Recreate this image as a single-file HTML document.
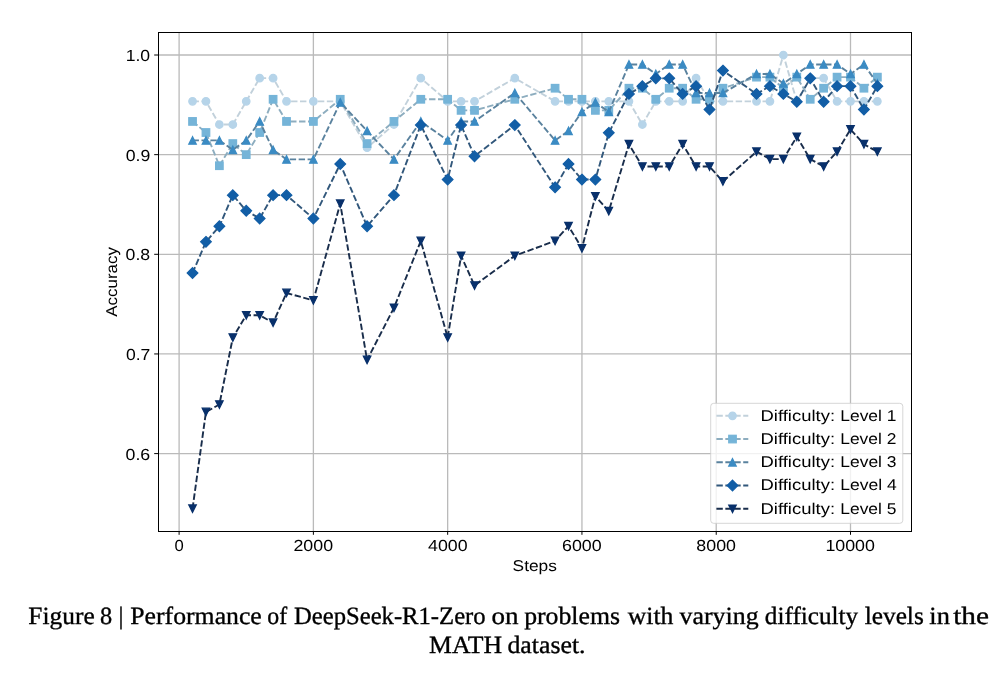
<!DOCTYPE html>
<html><head><meta charset="utf-8"><style>
html,body{margin:0;padding:0;background:#fff;width:1008px;height:688px;overflow:hidden}
svg{display:block}
#w{position:absolute;left:0;top:0;width:1008px;height:688px;will-change:transform}
text{font-family:"Liberation Sans",sans-serif;fill:#000;text-rendering:geometricPrecision}
.cap{font-family:"Liberation Serif",serif;stroke:#000;stroke-width:0.35px}
</style></head><body><div id="w">
<svg width="1008" height="688" viewBox="0 0 1008 688">
<rect width="1008" height="688" fill="#fff"/>

<g stroke="#bababa" stroke-width="1.3" fill="none"><line x1="179.10" y1="32.5" x2="179.10" y2="531.5"/><line x1="313.38" y1="32.5" x2="313.38" y2="531.5"/><line x1="447.66" y1="32.5" x2="447.66" y2="531.5"/><line x1="581.94" y1="32.5" x2="581.94" y2="531.5"/><line x1="716.22" y1="32.5" x2="716.22" y2="531.5"/><line x1="850.50" y1="32.5" x2="850.50" y2="531.5"/><line x1="158.5" y1="453.60" x2="911.5" y2="453.60"/><line x1="158.5" y1="353.95" x2="911.5" y2="353.95"/><line x1="158.5" y1="254.30" x2="911.5" y2="254.30"/><line x1="158.5" y1="154.65" x2="911.5" y2="154.65"/><line x1="158.5" y1="55.00" x2="911.5" y2="55.00"/></g>
<polyline points="192.53,101.35 205.96,101.35 219.38,124.52 232.81,124.52 246.24,101.35 259.67,78.17 273.10,78.17 286.52,101.35 313.38,101.35 340.24,101.35 367.09,147.70 393.95,124.52 420.80,78.17 447.66,101.35 461.09,101.35 474.52,101.35 514.80,78.17 555.08,101.35 568.51,101.35 581.94,101.35 595.37,101.35 608.80,101.35 628.94,101.35 642.37,124.52 655.79,101.35 669.22,101.35 682.65,101.35 696.08,78.17 709.51,101.35 722.93,101.35 756.50,101.35 769.93,101.35 783.36,55.00 796.79,101.35 810.22,78.17 823.64,78.17 837.07,101.35 850.50,101.35 863.93,101.35 877.36,101.35" fill="none" stroke="#c2d1db" stroke-width="1.9" stroke-dasharray="6.40 2.54" stroke-linejoin="round"/>
<g fill="#b6d4e9" stroke="#b6d4e9" stroke-width="1.25" stroke-linejoin="miter"><circle cx="192.53" cy="101.35" r="3.75"/><circle cx="205.96" cy="101.35" r="3.75"/><circle cx="219.38" cy="124.52" r="3.75"/><circle cx="232.81" cy="124.52" r="3.75"/><circle cx="246.24" cy="101.35" r="3.75"/><circle cx="259.67" cy="78.17" r="3.75"/><circle cx="273.10" cy="78.17" r="3.75"/><circle cx="286.52" cy="101.35" r="3.75"/><circle cx="313.38" cy="101.35" r="3.75"/><circle cx="340.24" cy="101.35" r="3.75"/><circle cx="367.09" cy="147.70" r="3.75"/><circle cx="393.95" cy="124.52" r="3.75"/><circle cx="420.80" cy="78.17" r="3.75"/><circle cx="447.66" cy="101.35" r="3.75"/><circle cx="461.09" cy="101.35" r="3.75"/><circle cx="474.52" cy="101.35" r="3.75"/><circle cx="514.80" cy="78.17" r="3.75"/><circle cx="555.08" cy="101.35" r="3.75"/><circle cx="568.51" cy="101.35" r="3.75"/><circle cx="581.94" cy="101.35" r="3.75"/><circle cx="595.37" cy="101.35" r="3.75"/><circle cx="608.80" cy="101.35" r="3.75"/><circle cx="628.94" cy="101.35" r="3.75"/><circle cx="642.37" cy="124.52" r="3.75"/><circle cx="655.79" cy="101.35" r="3.75"/><circle cx="669.22" cy="101.35" r="3.75"/><circle cx="682.65" cy="101.35" r="3.75"/><circle cx="696.08" cy="78.17" r="3.75"/><circle cx="709.51" cy="101.35" r="3.75"/><circle cx="722.93" cy="101.35" r="3.75"/><circle cx="756.50" cy="101.35" r="3.75"/><circle cx="769.93" cy="101.35" r="3.75"/><circle cx="783.36" cy="55.00" r="3.75"/><circle cx="796.79" cy="101.35" r="3.75"/><circle cx="810.22" cy="78.17" r="3.75"/><circle cx="823.64" cy="78.17" r="3.75"/><circle cx="837.07" cy="101.35" r="3.75"/><circle cx="850.50" cy="101.35" r="3.75"/><circle cx="863.93" cy="101.35" r="3.75"/><circle cx="877.36" cy="101.35" r="3.75"/></g>
<polyline points="192.53,121.43 205.96,132.51 219.38,165.72 232.81,143.58 246.24,154.65 259.67,132.51 273.10,99.29 286.52,121.43 313.38,121.43 340.24,99.29 367.09,143.58 393.95,121.43 420.80,99.29 447.66,99.29 461.09,110.36 474.52,110.36 514.80,99.29 555.08,88.22 568.51,99.29 581.94,99.29 595.37,110.36 608.80,110.36 628.94,88.22 642.37,88.22 655.79,99.29 669.22,88.22 682.65,88.22 696.08,99.29 709.51,99.29 722.93,88.22 756.50,77.14 769.93,77.14 783.36,88.22 796.79,77.14 810.22,99.29 823.64,88.22 837.07,77.14 850.50,77.14 863.93,88.22 877.36,77.14" fill="none" stroke="#8dadbf" stroke-width="1.9" stroke-dasharray="6.40 2.54" stroke-linejoin="round"/>
<g fill="#75b4d8" stroke="#75b4d8" stroke-width="1.25" stroke-linejoin="miter"><rect x="188.78" y="117.68" width="7.50" height="7.50"/><rect x="202.21" y="128.76" width="7.50" height="7.50"/><rect x="215.63" y="161.97" width="7.50" height="7.50"/><rect x="229.06" y="139.83" width="7.50" height="7.50"/><rect x="242.49" y="150.90" width="7.50" height="7.50"/><rect x="255.92" y="128.76" width="7.50" height="7.50"/><rect x="269.35" y="95.54" width="7.50" height="7.50"/><rect x="282.77" y="117.68" width="7.50" height="7.50"/><rect x="309.63" y="117.68" width="7.50" height="7.50"/><rect x="336.49" y="95.54" width="7.50" height="7.50"/><rect x="363.34" y="139.83" width="7.50" height="7.50"/><rect x="390.20" y="117.68" width="7.50" height="7.50"/><rect x="417.05" y="95.54" width="7.50" height="7.50"/><rect x="443.91" y="95.54" width="7.50" height="7.50"/><rect x="457.34" y="106.61" width="7.50" height="7.50"/><rect x="470.77" y="106.61" width="7.50" height="7.50"/><rect x="511.05" y="95.54" width="7.50" height="7.50"/><rect x="551.33" y="84.47" width="7.50" height="7.50"/><rect x="564.76" y="95.54" width="7.50" height="7.50"/><rect x="578.19" y="95.54" width="7.50" height="7.50"/><rect x="591.62" y="106.61" width="7.50" height="7.50"/><rect x="605.05" y="106.61" width="7.50" height="7.50"/><rect x="625.19" y="84.47" width="7.50" height="7.50"/><rect x="638.62" y="84.47" width="7.50" height="7.50"/><rect x="652.04" y="95.54" width="7.50" height="7.50"/><rect x="665.47" y="84.47" width="7.50" height="7.50"/><rect x="678.90" y="84.47" width="7.50" height="7.50"/><rect x="692.33" y="95.54" width="7.50" height="7.50"/><rect x="705.76" y="95.54" width="7.50" height="7.50"/><rect x="719.18" y="84.47" width="7.50" height="7.50"/><rect x="752.75" y="73.39" width="7.50" height="7.50"/><rect x="766.18" y="73.39" width="7.50" height="7.50"/><rect x="779.61" y="84.47" width="7.50" height="7.50"/><rect x="793.04" y="73.39" width="7.50" height="7.50"/><rect x="806.47" y="95.54" width="7.50" height="7.50"/><rect x="819.89" y="84.47" width="7.50" height="7.50"/><rect x="833.32" y="73.39" width="7.50" height="7.50"/><rect x="846.75" y="73.39" width="7.50" height="7.50"/><rect x="860.18" y="84.47" width="7.50" height="7.50"/><rect x="873.61" y="73.39" width="7.50" height="7.50"/></g>
<polyline points="192.53,140.41 205.96,140.41 219.38,140.41 232.81,149.90 246.24,140.41 259.67,121.43 273.10,149.90 286.52,159.40 313.38,159.40 340.24,102.45 367.09,130.92 393.95,159.40 420.80,121.43 447.66,140.41 461.09,121.43 474.52,121.43 514.80,92.96 555.08,140.41 568.51,130.92 581.94,111.94 595.37,102.45 608.80,111.94 628.94,64.49 642.37,64.49 655.79,73.98 669.22,64.49 682.65,64.49 696.08,92.96 709.51,92.96 722.93,92.96 756.50,73.98 769.93,73.98 783.36,83.47 796.79,73.98 810.22,64.49 823.64,64.49 837.07,64.49 850.50,73.98 863.93,64.49 877.36,83.47" fill="none" stroke="#5a829e" stroke-width="1.9" stroke-dasharray="6.40 2.54" stroke-linejoin="round"/>
<g fill="#3b8bc3" stroke="#3b8bc3" stroke-width="1.25" stroke-linejoin="miter"><path d="M192.53 136.66L188.78 144.16L196.28 144.16Z"/><path d="M205.96 136.66L202.21 144.16L209.71 144.16Z"/><path d="M219.38 136.66L215.63 144.16L223.13 144.16Z"/><path d="M232.81 146.15L229.06 153.65L236.56 153.65Z"/><path d="M246.24 136.66L242.49 144.16L249.99 144.16Z"/><path d="M259.67 117.68L255.92 125.18L263.42 125.18Z"/><path d="M273.10 146.15L269.35 153.65L276.85 153.65Z"/><path d="M286.52 155.65L282.77 163.15L290.27 163.15Z"/><path d="M313.38 155.65L309.63 163.15L317.13 163.15Z"/><path d="M340.24 98.70L336.49 106.20L343.99 106.20Z"/><path d="M367.09 127.17L363.34 134.67L370.84 134.67Z"/><path d="M393.95 155.65L390.20 163.15L397.70 163.15Z"/><path d="M420.80 117.68L417.05 125.18L424.55 125.18Z"/><path d="M447.66 136.66L443.91 144.16L451.41 144.16Z"/><path d="M461.09 117.68L457.34 125.18L464.84 125.18Z"/><path d="M474.52 117.68L470.77 125.18L478.27 125.18Z"/><path d="M514.80 89.21L511.05 96.71L518.55 96.71Z"/><path d="M555.08 136.66L551.33 144.16L558.83 144.16Z"/><path d="M568.51 127.17L564.76 134.67L572.26 134.67Z"/><path d="M581.94 108.19L578.19 115.69L585.69 115.69Z"/><path d="M595.37 98.70L591.62 106.20L599.12 106.20Z"/><path d="M608.80 108.19L605.05 115.69L612.55 115.69Z"/><path d="M628.94 60.74L625.19 68.24L632.69 68.24Z"/><path d="M642.37 60.74L638.62 68.24L646.12 68.24Z"/><path d="M655.79 70.23L652.04 77.73L659.54 77.73Z"/><path d="M669.22 60.74L665.47 68.24L672.97 68.24Z"/><path d="M682.65 60.74L678.90 68.24L686.40 68.24Z"/><path d="M696.08 89.21L692.33 96.71L699.83 96.71Z"/><path d="M709.51 89.21L705.76 96.71L713.26 96.71Z"/><path d="M722.93 89.21L719.18 96.71L726.68 96.71Z"/><path d="M756.50 70.23L752.75 77.73L760.25 77.73Z"/><path d="M769.93 70.23L766.18 77.73L773.68 77.73Z"/><path d="M783.36 79.72L779.61 87.22L787.11 87.22Z"/><path d="M796.79 70.23L793.04 77.73L800.54 77.73Z"/><path d="M810.22 60.74L806.47 68.24L813.97 68.24Z"/><path d="M823.64 60.74L819.89 68.24L827.39 68.24Z"/><path d="M837.07 60.74L833.32 68.24L840.82 68.24Z"/><path d="M850.50 70.23L846.75 77.73L854.25 77.73Z"/><path d="M863.93 60.74L860.18 68.24L867.68 68.24Z"/><path d="M877.36 79.72L873.61 87.22L881.11 87.22Z"/></g>
<polyline points="192.53,272.98 205.96,241.84 219.38,226.27 232.81,195.13 246.24,210.70 259.67,218.49 273.10,195.13 286.52,195.13 313.38,218.49 340.24,163.99 367.09,226.27 393.95,195.13 420.80,125.07 447.66,179.56 461.09,125.07 474.52,156.21 514.80,125.07 555.08,187.35 568.51,163.99 581.94,179.56 595.37,179.56 608.80,132.85 628.94,93.93 642.37,86.14 655.79,78.36 669.22,78.36 682.65,93.93 696.08,86.14 709.51,109.50 722.93,70.57 756.50,93.93 769.93,86.14 783.36,93.93 796.79,101.71 810.22,78.36 823.64,101.71 837.07,86.14 850.50,86.14 863.93,109.50 877.36,86.14" fill="none" stroke="#31577b" stroke-width="1.9" stroke-dasharray="6.40 2.54" stroke-linejoin="round"/>
<g fill="#125ea6" stroke="#125ea6" stroke-width="1.25" stroke-linejoin="miter"><path d="M192.53 267.68L197.83 272.98L192.53 278.29L187.22 272.98Z"/><path d="M205.96 236.54L211.26 241.84L205.96 247.15L200.65 241.84Z"/><path d="M219.38 220.97L224.69 226.27L219.38 231.58L214.08 226.27Z"/><path d="M232.81 189.83L238.12 195.13L232.81 200.44L227.51 195.13Z"/><path d="M246.24 205.40L251.54 210.70L246.24 216.01L240.94 210.70Z"/><path d="M259.67 213.18L264.97 218.49L259.67 223.79L254.36 218.49Z"/><path d="M273.10 189.83L278.40 195.13L273.10 200.44L267.79 195.13Z"/><path d="M286.52 189.83L291.83 195.13L286.52 200.44L281.22 195.13Z"/><path d="M313.38 213.18L318.68 218.49L313.38 223.79L308.08 218.49Z"/><path d="M340.24 158.69L345.54 163.99L340.24 169.30L334.93 163.99Z"/><path d="M367.09 220.97L372.40 226.27L367.09 231.58L361.79 226.27Z"/><path d="M393.95 189.83L399.25 195.13L393.95 200.44L388.64 195.13Z"/><path d="M420.80 119.76L426.11 125.07L420.80 130.37L415.50 125.07Z"/><path d="M447.66 174.26L452.96 179.56L447.66 184.87L442.36 179.56Z"/><path d="M461.09 119.76L466.39 125.07L461.09 130.37L455.78 125.07Z"/><path d="M474.52 150.90L479.82 156.21L474.52 161.51L469.21 156.21Z"/><path d="M514.80 119.76L520.10 125.07L514.80 130.37L509.50 125.07Z"/><path d="M555.08 182.04L560.39 187.35L555.08 192.65L549.78 187.35Z"/><path d="M568.51 158.69L573.82 163.99L568.51 169.30L563.21 163.99Z"/><path d="M581.94 174.26L587.24 179.56L581.94 184.87L576.64 179.56Z"/><path d="M595.37 174.26L600.67 179.56L595.37 184.87L590.06 179.56Z"/><path d="M608.80 127.55L614.10 132.85L608.80 138.15L603.49 132.85Z"/><path d="M628.94 88.62L634.24 93.93L628.94 99.23L623.63 93.93Z"/><path d="M642.37 80.84L647.67 86.14L642.37 91.44L637.06 86.14Z"/><path d="M655.79 73.05L661.10 78.36L655.79 83.66L650.49 78.36Z"/><path d="M669.22 73.05L674.53 78.36L669.22 83.66L663.92 78.36Z"/><path d="M682.65 88.62L687.95 93.93L682.65 99.23L677.35 93.93Z"/><path d="M696.08 80.84L701.38 86.14L696.08 91.44L690.77 86.14Z"/><path d="M709.51 104.19L714.81 109.50L709.51 114.80L704.20 109.50Z"/><path d="M722.93 65.27L728.24 70.57L722.93 75.87L717.63 70.57Z"/><path d="M756.50 88.62L761.81 93.93L756.50 99.23L751.20 93.93Z"/><path d="M769.93 80.84L775.24 86.14L769.93 91.44L764.63 86.14Z"/><path d="M783.36 88.62L788.66 93.93L783.36 99.23L778.06 93.93Z"/><path d="M796.79 96.41L802.09 101.71L796.79 107.01L791.48 101.71Z"/><path d="M810.22 73.05L815.52 78.36L810.22 83.66L804.91 78.36Z"/><path d="M823.64 96.41L828.95 101.71L823.64 107.01L818.34 101.71Z"/><path d="M837.07 80.84L842.38 86.14L837.07 91.44L831.77 86.14Z"/><path d="M850.50 80.84L855.80 86.14L850.50 91.44L845.20 86.14Z"/><path d="M863.93 104.19L869.23 109.50L863.93 114.80L858.62 109.50Z"/><path d="M877.36 80.84L882.66 86.14L877.36 91.44L872.05 86.14Z"/></g>
<polyline points="192.53,508.63 205.96,411.96 219.38,404.52 232.81,337.59 246.24,315.28 259.67,315.28 273.10,322.72 286.52,292.97 313.38,300.41 340.24,203.73 367.09,359.90 393.95,307.84 420.80,240.91 447.66,337.59 461.09,255.79 474.52,285.53 514.80,255.79 555.08,240.91 568.51,226.04 581.94,248.35 595.37,196.29 608.80,211.17 628.94,144.24 642.37,166.55 655.79,166.55 669.22,166.55 682.65,144.24 696.08,166.55 709.51,166.55 722.93,181.42 756.50,151.68 769.93,159.11 783.36,159.11 796.79,136.80 810.22,159.11 823.64,166.55 837.07,151.68 850.50,129.37 863.93,144.24 877.36,151.68" fill="none" stroke="#192d4b" stroke-width="1.9" stroke-dasharray="6.40 2.54" stroke-linejoin="round"/>
<g fill="#08306b" stroke="#08306b" stroke-width="1.25" stroke-linejoin="miter"><path d="M192.53 512.38L188.78 504.88L196.28 504.88Z"/><path d="M205.96 415.71L202.21 408.21L209.71 408.21Z"/><path d="M219.38 408.27L215.63 400.77L223.13 400.77Z"/><path d="M232.81 341.34L229.06 333.84L236.56 333.84Z"/><path d="M246.24 319.03L242.49 311.53L249.99 311.53Z"/><path d="M259.67 319.03L255.92 311.53L263.42 311.53Z"/><path d="M273.10 326.47L269.35 318.97L276.85 318.97Z"/><path d="M286.52 296.72L282.77 289.22L290.27 289.22Z"/><path d="M313.38 304.16L309.63 296.66L317.13 296.66Z"/><path d="M340.24 207.48L336.49 199.98L343.99 199.98Z"/><path d="M367.09 363.65L363.34 356.15L370.84 356.15Z"/><path d="M393.95 311.59L390.20 304.09L397.70 304.09Z"/><path d="M420.80 244.66L417.05 237.16L424.55 237.16Z"/><path d="M447.66 341.34L443.91 333.84L451.41 333.84Z"/><path d="M461.09 259.54L457.34 252.04L464.84 252.04Z"/><path d="M474.52 289.28L470.77 281.78L478.27 281.78Z"/><path d="M514.80 259.54L511.05 252.04L518.55 252.04Z"/><path d="M555.08 244.66L551.33 237.16L558.83 237.16Z"/><path d="M568.51 229.79L564.76 222.29L572.26 222.29Z"/><path d="M581.94 252.10L578.19 244.60L585.69 244.60Z"/><path d="M595.37 200.04L591.62 192.54L599.12 192.54Z"/><path d="M608.80 214.92L605.05 207.42L612.55 207.42Z"/><path d="M628.94 147.99L625.19 140.49L632.69 140.49Z"/><path d="M642.37 170.30L638.62 162.80L646.12 162.80Z"/><path d="M655.79 170.30L652.04 162.80L659.54 162.80Z"/><path d="M669.22 170.30L665.47 162.80L672.97 162.80Z"/><path d="M682.65 147.99L678.90 140.49L686.40 140.49Z"/><path d="M696.08 170.30L692.33 162.80L699.83 162.80Z"/><path d="M709.51 170.30L705.76 162.80L713.26 162.80Z"/><path d="M722.93 185.17L719.18 177.67L726.68 177.67Z"/><path d="M756.50 155.43L752.75 147.93L760.25 147.93Z"/><path d="M769.93 162.86L766.18 155.36L773.68 155.36Z"/><path d="M783.36 162.86L779.61 155.36L787.11 155.36Z"/><path d="M796.79 140.55L793.04 133.05L800.54 133.05Z"/><path d="M810.22 162.86L806.47 155.36L813.97 155.36Z"/><path d="M823.64 170.30L819.89 162.80L827.39 162.80Z"/><path d="M837.07 155.43L833.32 147.93L840.82 147.93Z"/><path d="M850.50 133.12L846.75 125.62L854.25 125.62Z"/><path d="M863.93 147.99L860.18 140.49L867.68 140.49Z"/><path d="M877.36 155.43L873.61 147.93L881.11 147.93Z"/></g>
<rect x="158.5" y="32.5" width="753.00" height="499.00" fill="none" stroke="#000" stroke-width="1"/>
<g stroke="#000" stroke-width="1"><line x1="179.10" y1="531.5" x2="179.10" y2="534.8"/><line x1="313.38" y1="531.5" x2="313.38" y2="534.8"/><line x1="447.66" y1="531.5" x2="447.66" y2="534.8"/><line x1="581.94" y1="531.5" x2="581.94" y2="534.8"/><line x1="716.22" y1="531.5" x2="716.22" y2="534.8"/><line x1="850.50" y1="531.5" x2="850.50" y2="534.8"/><line x1="154.2" y1="453.60" x2="158.5" y2="453.60"/><line x1="154.2" y1="353.95" x2="158.5" y2="353.95"/><line x1="154.2" y1="254.30" x2="158.5" y2="254.30"/><line x1="154.2" y1="154.65" x2="158.5" y2="154.65"/><line x1="154.2" y1="55.00" x2="158.5" y2="55.00"/></g>
<text x="174.48" y="550.80" font-size="16.0" textLength="9.25" lengthAdjust="spacingAndGlyphs">0</text><text x="293.49" y="550.80" font-size="16.0" textLength="39.55" lengthAdjust="spacingAndGlyphs">2000</text><text x="428.02" y="550.80" font-size="16.0" textLength="39.50" lengthAdjust="spacingAndGlyphs">4000</text><text x="562.00" y="550.80" font-size="16.0" textLength="39.65" lengthAdjust="spacingAndGlyphs">6000</text><text x="696.39" y="550.80" font-size="16.0" textLength="39.54" lengthAdjust="spacingAndGlyphs">8000</text><text x="825.42" y="550.80" font-size="16.0" textLength="49.49" lengthAdjust="spacingAndGlyphs">10000</text><text x="125.53" y="459.65" font-size="16.0" textLength="24.69" lengthAdjust="spacingAndGlyphs">0.6</text><text x="125.94" y="360.00" font-size="16.0" textLength="24.38" lengthAdjust="spacingAndGlyphs">0.7</text><text x="125.64" y="260.35" font-size="16.0" textLength="24.58" lengthAdjust="spacingAndGlyphs">0.8</text><text x="125.74" y="160.70" font-size="16.0" textLength="24.59" lengthAdjust="spacingAndGlyphs">0.9</text><text x="125.68" y="61.05" font-size="16.0" textLength="24.42" lengthAdjust="spacingAndGlyphs">1.0</text>
<text x="512.62" y="570.90" font-size="15.6" textLength="44.34" lengthAdjust="spacingAndGlyphs">Steps</text>
<text transform="translate(117.4 316.81) rotate(-90)" x="0" y="0" font-size="15.6" textLength="69.76" lengthAdjust="spacingAndGlyphs">Accuracy</text>
<rect x="710.7" y="403.3" width="192.10" height="120.00" rx="3" ry="3" fill="#fff" fill-opacity="0.8" stroke="#cccccc" stroke-opacity="0.8" stroke-width="1"/>
<line x1="716.4" y1="415.80" x2="748.3" y2="415.80" stroke="#c2d1db" stroke-width="1.9" stroke-dasharray="6.40 2.54"/>
<g fill="#b6d4e9" stroke="#b6d4e9" stroke-width="1.25"><circle cx="732.50" cy="415.80" r="3.75"/></g>
<text x="760.56" y="420.70" font-size="15.6" textLength="74.49" lengthAdjust="spacingAndGlyphs">Difficulty:</text>
<text x="840.31" y="420.70" font-size="15.6" textLength="56.15" lengthAdjust="spacingAndGlyphs">Level 1</text>
<line x1="716.4" y1="439.05" x2="748.3" y2="439.05" stroke="#8dadbf" stroke-width="1.9" stroke-dasharray="6.40 2.54"/>
<g fill="#75b4d8" stroke="#75b4d8" stroke-width="1.25"><rect x="728.75" y="435.30" width="7.50" height="7.50"/></g>
<text x="760.56" y="443.95" font-size="15.6" textLength="74.49" lengthAdjust="spacingAndGlyphs">Difficulty:</text>
<text x="840.31" y="443.95" font-size="15.6" textLength="56.05" lengthAdjust="spacingAndGlyphs">Level 2</text>
<line x1="716.4" y1="462.30" x2="748.3" y2="462.30" stroke="#5a829e" stroke-width="1.9" stroke-dasharray="6.40 2.54"/>
<g fill="#3b8bc3" stroke="#3b8bc3" stroke-width="1.25"><path d="M732.50 458.55L728.75 466.05L736.25 466.05Z"/></g>
<text x="760.56" y="467.20" font-size="15.6" textLength="74.49" lengthAdjust="spacingAndGlyphs">Difficulty:</text>
<text x="840.31" y="467.20" font-size="15.6" textLength="56.24" lengthAdjust="spacingAndGlyphs">Level 3</text>
<line x1="716.4" y1="485.55" x2="748.3" y2="485.55" stroke="#31577b" stroke-width="1.9" stroke-dasharray="6.40 2.54"/>
<g fill="#125ea6" stroke="#125ea6" stroke-width="1.25"><path d="M732.50 480.25L737.80 485.55L732.50 490.85L727.20 485.55Z"/></g>
<text x="760.56" y="490.45" font-size="15.6" textLength="74.49" lengthAdjust="spacingAndGlyphs">Difficulty:</text>
<text x="840.30" y="490.45" font-size="15.6" textLength="56.43" lengthAdjust="spacingAndGlyphs">Level 4</text>
<line x1="716.4" y1="508.80" x2="748.3" y2="508.80" stroke="#192d4b" stroke-width="1.9" stroke-dasharray="6.40 2.54"/>
<g fill="#08306b" stroke="#08306b" stroke-width="1.25"><path d="M732.50 512.55L728.75 505.05L736.25 505.05Z"/></g>
<text x="760.56" y="513.70" font-size="15.6" textLength="74.49" lengthAdjust="spacingAndGlyphs">Difficulty:</text>
<text x="840.31" y="513.70" font-size="15.6" textLength="56.14" lengthAdjust="spacingAndGlyphs">Level 5</text>
<text class="cap" x="28.38" y="624.20" font-size="24.8" textLength="66.29" lengthAdjust="spacingAndGlyphs">Figure</text>
<text class="cap" x="99.92" y="624.20" font-size="24.8" textLength="12.17" lengthAdjust="spacingAndGlyphs">8</text>
<text class="cap" x="118.60" y="624.20" font-size="24.8" textLength="4.97" lengthAdjust="spacingAndGlyphs">|</text>
<text class="cap" x="130.27" y="624.20" font-size="24.8" textLength="131.55" lengthAdjust="spacingAndGlyphs">Performance</text>
<text class="cap" x="267.24" y="624.20" font-size="24.8" textLength="19.82" lengthAdjust="spacingAndGlyphs">of</text>
<text class="cap" x="294.00" y="624.20" font-size="24.8" textLength="191.60" lengthAdjust="spacingAndGlyphs">DeepSeek-R1-Zero</text>
<text class="cap" x="491.42" y="624.20" font-size="24.8" textLength="27.02" lengthAdjust="spacingAndGlyphs">on</text>
<text class="cap" x="524.18" y="624.20" font-size="24.8" textLength="95.85" lengthAdjust="spacingAndGlyphs">problems</text>
<text class="cap" x="627.80" y="624.20" font-size="24.8" textLength="45.60" lengthAdjust="spacingAndGlyphs">with</text>
<text class="cap" x="679.60" y="624.20" font-size="24.8" textLength="78.98" lengthAdjust="spacingAndGlyphs">varying</text>
<text class="cap" x="764.89" y="624.20" font-size="24.8" textLength="93.26" lengthAdjust="spacingAndGlyphs">difficulty</text>
<text class="cap" x="864.69" y="624.20" font-size="24.8" textLength="59.08" lengthAdjust="spacingAndGlyphs">levels</text>
<text class="cap" x="929.37" y="624.20" font-size="24.8" textLength="20.55" lengthAdjust="spacingAndGlyphs">in</text>
<text class="cap" x="953.16" y="624.20" font-size="24.8" textLength="35.80" lengthAdjust="spacingAndGlyphs">the</text>
<text class="cap" x="429.07" y="653.30" font-size="24.8" textLength="72.92" lengthAdjust="spacingAndGlyphs">MATH</text>
<text class="cap" x="507.46" y="653.30" font-size="24.8" textLength="78.05" lengthAdjust="spacingAndGlyphs">dataset.</text>
</svg></div></body></html>
